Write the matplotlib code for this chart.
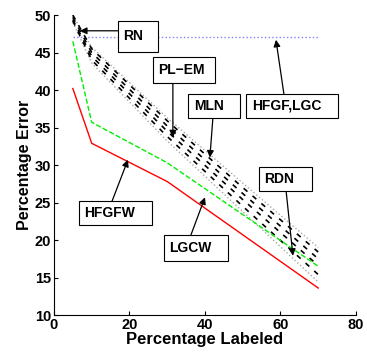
import matplotlib
matplotlib.use("Agg")
import matplotlib.pyplot as plt
from matplotlib.patches import Rectangle

plt.rcParams['font.family'] = ['Liberation Sans', 'DejaVu Sans']
plt.rcParams['font.weight'] = 'bold'

# percentage labeled
x = [5, 10, 30, 50, 70]
x_short = [5, 10, 30, 70]

hfgfw = [40.2, 32.9, 27.8, 13.6]
lgcw = [46.5, 35.7, 30.3, 16.5]
rn = [47.1, 47.1]
rn_x = [5, 70]

# black dashed curves (PL-EM, MLN, RDN, ...)
black_runs = [
    [50.0, 45.5, 35.9, 27.0, 18.4],
    [49.7, 45.0, 35.2, 26.2, 17.5],
    [49.4, 44.5, 34.5, 25.4, 16.6],
    [49.2, 44.0, 33.8, 24.5, 15.4],
]
# grey dotted curves
grey_runs = [
    [49.9, 45.7, 36.3, 27.6, 19.0],
    [49.0, 43.6, 33.2, 23.8, 14.4],
]

fig = plt.figure(figsize=(3.67, 3.58), dpi=100)
ax = fig.add_axes([0.147, 0.12, 0.823, 0.838])

ax.plot(rn_x, rn, color='#8080ff', linestyle=':', linewidth=1)
for g in grey_runs:
    ax.plot(x, g, color='#a8a8a8', linestyle=':', linewidth=1)
for b in black_runs:
    ax.plot(x, b, color='black', linestyle=(0, (3, 4)), linewidth=1.2)
ax.plot(x_short, lgcw, color='#00ee00', linestyle='--', linewidth=1)
ax.plot(x_short, hfgfw, color='red', linestyle='-', linewidth=1)

ax.set_xlim(0, 80)
ax.set_ylim(10, 50)
ax.set_xticks([0, 20, 40, 60, 80])
ax.set_yticks([10, 15, 20, 25, 30, 35, 40, 45, 50])
ax.spines['top'].set_visible(False)
ax.spines['right'].set_visible(False)
ax.tick_params(direction='in', length=3, labelsize=10.5, pad=2)
for lab in ax.get_xticklabels() + ax.get_yticklabels():
    lab.set_fontweight('bold')
ax.set_xlabel('Percentage Labeled', fontsize=12, fontweight='bold', labelpad=0)
ax.set_ylabel('Percentage Error', fontsize=11.5, fontweight='bold', labelpad=2)

# label boxes: (text, box x0, box y0, width, height, arrow start, arrow tip)
notes = [
    ('RN', 16.9, 45.1, 10.6, 4.1, (16.9, 47.9), (6.9, 47.9)),
    ('PL\u2212EM', 26.2, 40.9, 16.4, 3.5, (31.5, 40.9), (31.5, 33.7)),
    ('MLN', 35.5, 36.3, 13.8, 3.2, (42.1, 36.3), (41.3, 31.0)),
    ('HFGF,LGC', 50.9, 36.3, 24.3, 3.2, (60.9, 39.5), (58.8, 46.7)),
    ('RDN', 54.3, 26.5, 14.0, 3.2, (61.5, 26.5), (63.3, 17.9)),
    ('HFGFW', 6.6, 22.0, 19.4, 3.2, (15.4, 25.2), (19.6, 30.7)),
    ('LGCW', 29.1, 17.2, 17.0, 3.5, (36.3, 20.7), (40.0, 25.7)),
]
for label, bx, by, bw, bh, start, tip in notes:
    ax.annotate('', xy=tip, xytext=start,
                arrowprops=dict(arrowstyle='-|>', color='black', lw=0.9,
                                mutation_scale=10, shrinkA=0, shrinkB=0))
    ax.add_patch(Rectangle((bx, by), bw, bh, fc='white', ec='black',
                           lw=0.8, clip_on=False, zorder=5))
    ax.text(bx + 1.5, by + bh / 2, label, ha='left', va='center',
            fontsize=10, fontweight='bold', zorder=6)

fig.savefig('out.png', dpi=100)
